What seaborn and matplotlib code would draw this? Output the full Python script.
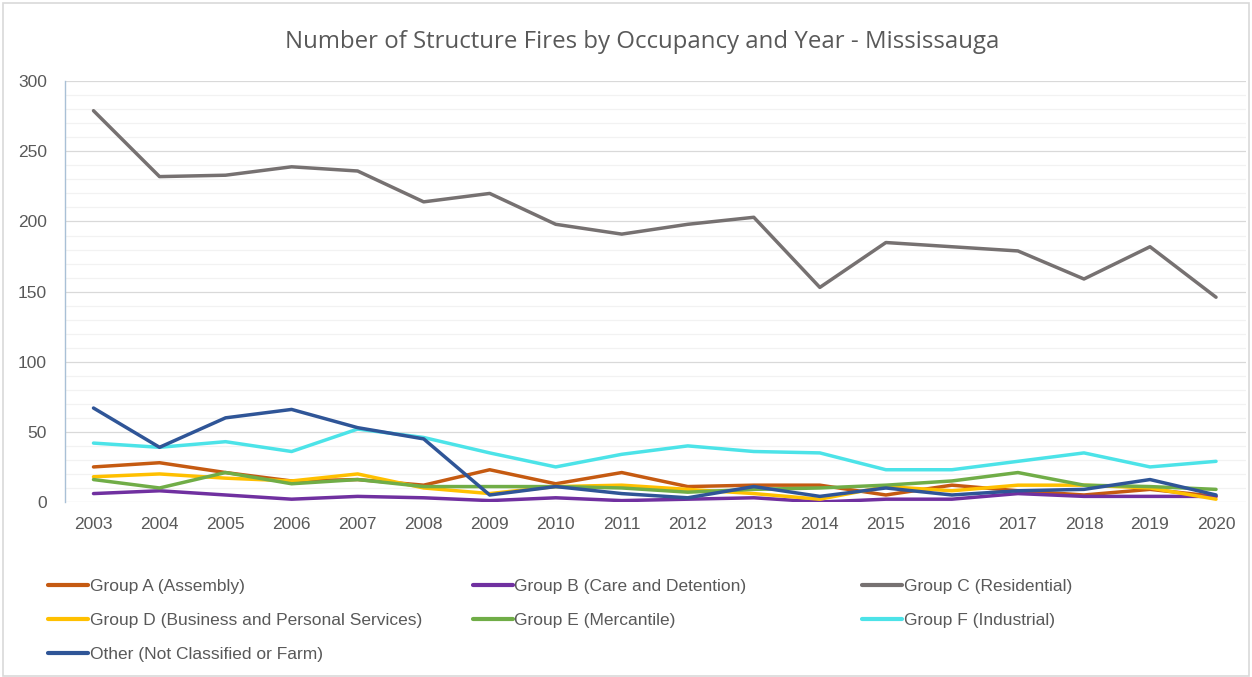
import matplotlib
matplotlib.use("Agg")
import matplotlib.pyplot as plt
import pandas as pd
import seaborn as sns
from matplotlib.ticker import MultipleLocator

years = list(range(2003, 2021))

group_a = [25, 28, 21, 15, 16, 12, 23, 13, 21, 11, 12, 12, 5, 12, 8, 5, 9, 4]
group_b = [6, 8, 5, 2, 4, 3, 1, 3, 1, 2, 3, 0, 2, 2, 6, 4, 4, 4]
group_c = [279, 232, 233, 239, 236, 214, 220, 198, 191, 198, 203, 153, 185, 182, 179, 159, 182, 146]
group_d = [18, 20, 17, 15, 20, 10, 6, 11, 12, 9, 6, 2, 11, 8, 12, 12, 10, 2]
group_e = [16, 10, 21, 13, 16, 11, 11, 11, 10, 7, 9, 10, 12, 15, 21, 12, 11, 9]
group_f = [42, 39, 43, 36, 52, 46, 35, 25, 34, 40, 36, 35, 23, 23, 29, 35, 25, 29]
other = [67, 39, 60, 66, 53, 45, 5, 11, 6, 3, 11, 4, 10, 5, 8, 9, 16, 5]

series_names = [
    "Group A (Assembly)",
    "Group B (Care and Detention)",
    "Group C (Residential)",
    "Group D (Business and Personal Services)",
    "Group E (Mercantile)",
    "Group F (Industrial)",
    "Other (Not Classified or Farm)",
]
series_values = [group_a, group_b, group_c, group_d, group_e, group_f, other]
colors = ["#C55A11", "#7030A0", "#767171", "#FFC000", "#70AD47", "#4CE3E8", "#2F5597"]

rows = []
for name, vals in zip(series_names, series_values):
    for yr, v in zip(years, vals):
        rows.append({"Year": yr, "Fires": v, "Occupancy": name})
df = pd.DataFrame(rows)

sns.set_style("white")
plt.rcParams["font.family"] = ["Liberation Sans", "DejaVu Sans"]

fig = plt.figure(figsize=(12.52, 6.77), dpi=100)
ax = fig.add_axes([0.052, 0.2585, 0.943, 0.6215])

palette = dict(zip(series_names, colors))
sns.lineplot(data=df, x="Year", y="Fires", hue="Occupancy", palette=palette,
             linewidth=2.5, ax=ax, legend=False, zorder=3)

ax.set_xlim(2002.57, 2020.45)
ax.set_ylim(0, 300)
ax.set_xticks(years)
ax.set_xticklabels([str(y) for y in years])
ax.yaxis.set_major_locator(MultipleLocator(50))
ax.yaxis.set_minor_locator(MultipleLocator(10))
ax.grid(which="minor", axis="y", color="#F2F2F2", linewidth=0.9, zorder=0)
ax.grid(which="major", axis="y", color="#D9D9D9", linewidth=0.9, zorder=0)
ax.set_xlabel("")
ax.set_ylabel("")
ax.tick_params(axis="both", length=0, labelsize=12.5, labelcolor="#595959")
ax.tick_params(axis="x", pad=11)
ax.tick_params(axis="y", pad=13)
for s in ["top", "right", "bottom"]:
    ax.spines[s].set_visible(False)
ax.spines["left"].set_color("#A9C0D6")
ax.spines["left"].set_linewidth(1.0)

fig.text(0.513, 0.938, "Number of Structure Fires by Occupancy and Year - Mississauga",
         ha="center", va="center", fontsize=17.3, color="#595959",
         family=["Open Sans", "DejaVu Sans"])

# legend in three fixed columns, row-major order like the source
col_x = [0.033, 0.372, 0.683]
for c in range(3):
    idx = [i for i in range(len(series_names)) if i % 3 == c]
    handles = [plt.Line2D([], [], color=colors[i], linewidth=3) for i in idx]
    labels = [series_names[i] for i in idx]
    leg = fig.legend(handles, labels, loc="upper left", bbox_to_anchor=(col_x[c], 0.155),
                     frameon=False, fontsize=12.5, handlelength=2.3, handletextpad=0.1,
                     labelspacing=1.07, borderaxespad=0)
    for t in leg.get_texts():
        t.set_color("#595959")

# outer chart border
fig.patches.append(plt.Rectangle((0.002, 0.002), 0.996, 0.994, transform=fig.transFigure,
                                 fill=False, edgecolor="#D9D9D9", linewidth=1.2))

fig.savefig("out.png", dpi=100)
